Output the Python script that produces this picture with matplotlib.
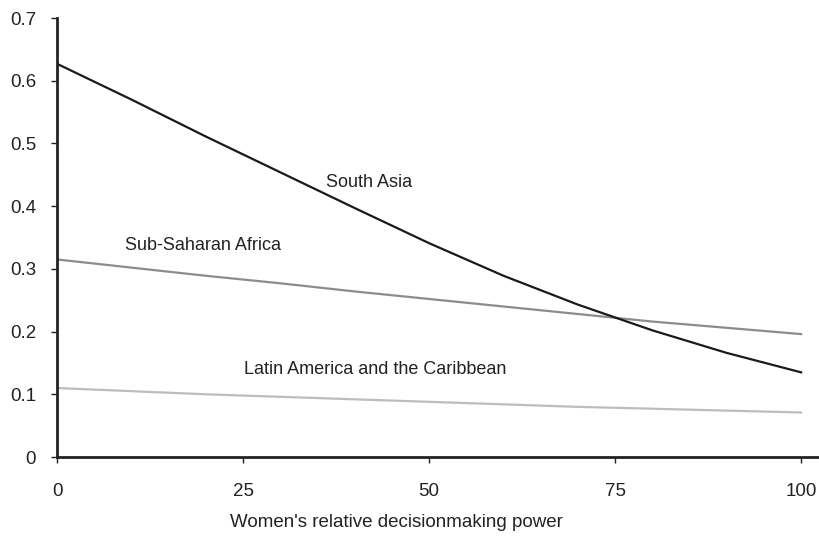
import matplotlib
matplotlib.use('Agg')
import matplotlib.pyplot as plt

plt.rcParams['font.family'] = ['Liberation Sans', 'DejaVu Sans']

power = [0, 10, 20, 30, 40, 50, 60, 70, 80, 90, 100]
south_asia = [0.627, 0.570, 0.511, 0.454, 0.397, 0.341, 0.289, 0.243, 0.202, 0.166, 0.135]
ssa = [0.315, 0.302, 0.289, 0.277, 0.264, 0.252, 0.240, 0.228, 0.216, 0.206, 0.196]
lac = [0.110, 0.105, 0.100, 0.096, 0.092, 0.088, 0.084, 0.080, 0.077, 0.074, 0.071]

fig = plt.figure(figsize=(8.19, 5.39), dpi=100)
ax = fig.add_axes([0.0696, 0.1521, 0.9304, 0.8145])

ax.plot(power, ssa, color='#8c8c8c', lw=1.6, solid_joinstyle='round')
ax.plot(power, lac, color='#bdbdbd', lw=1.6, solid_joinstyle='round')
ax.plot(power, south_asia, color='#1a1a1a', lw=1.6, solid_joinstyle='round')

ax.text(41.9, 0.437, 'South Asia', ha='center', va='center', fontsize=13, color='#222222')
ax.text(19.6, 0.338, 'Sub-Saharan Africa', ha='center', va='center', fontsize=13, color='#222222')
ax.text(42.7, 0.139, 'Latin America and the Caribbean', ha='center', va='center', fontsize=13, color='#222222')

ax.set_xlim(0, 102.4)
ax.set_ylim(0, 0.7)
ax.set_xticks([0, 25, 50, 75, 100])
ax.set_yticks([0, 0.1, 0.2, 0.3, 0.4, 0.5, 0.6, 0.7])
ax.set_yticklabels(['0', '0.1', '0.2', '0.3', '0.4', '0.5', '0.6', '0.7'])
ax.tick_params(direction='out', length=4, width=1, colors='#222222', labelsize=13.5, pad=11)
ax.tick_params(axis='x', pad=15)
ax.spines['top'].set_visible(False)
ax.spines['right'].set_visible(False)
for s in ['left', 'bottom']:
    ax.spines[s].set_linewidth(2)
    ax.spines[s].set_color('#222222')
ax.set_xlabel("Women's relative decisionmaking power", fontsize=13.5, color='#222222')
ax.xaxis.set_label_coords(0.446, -0.13)

fig.savefig('out.png', dpi=100)
